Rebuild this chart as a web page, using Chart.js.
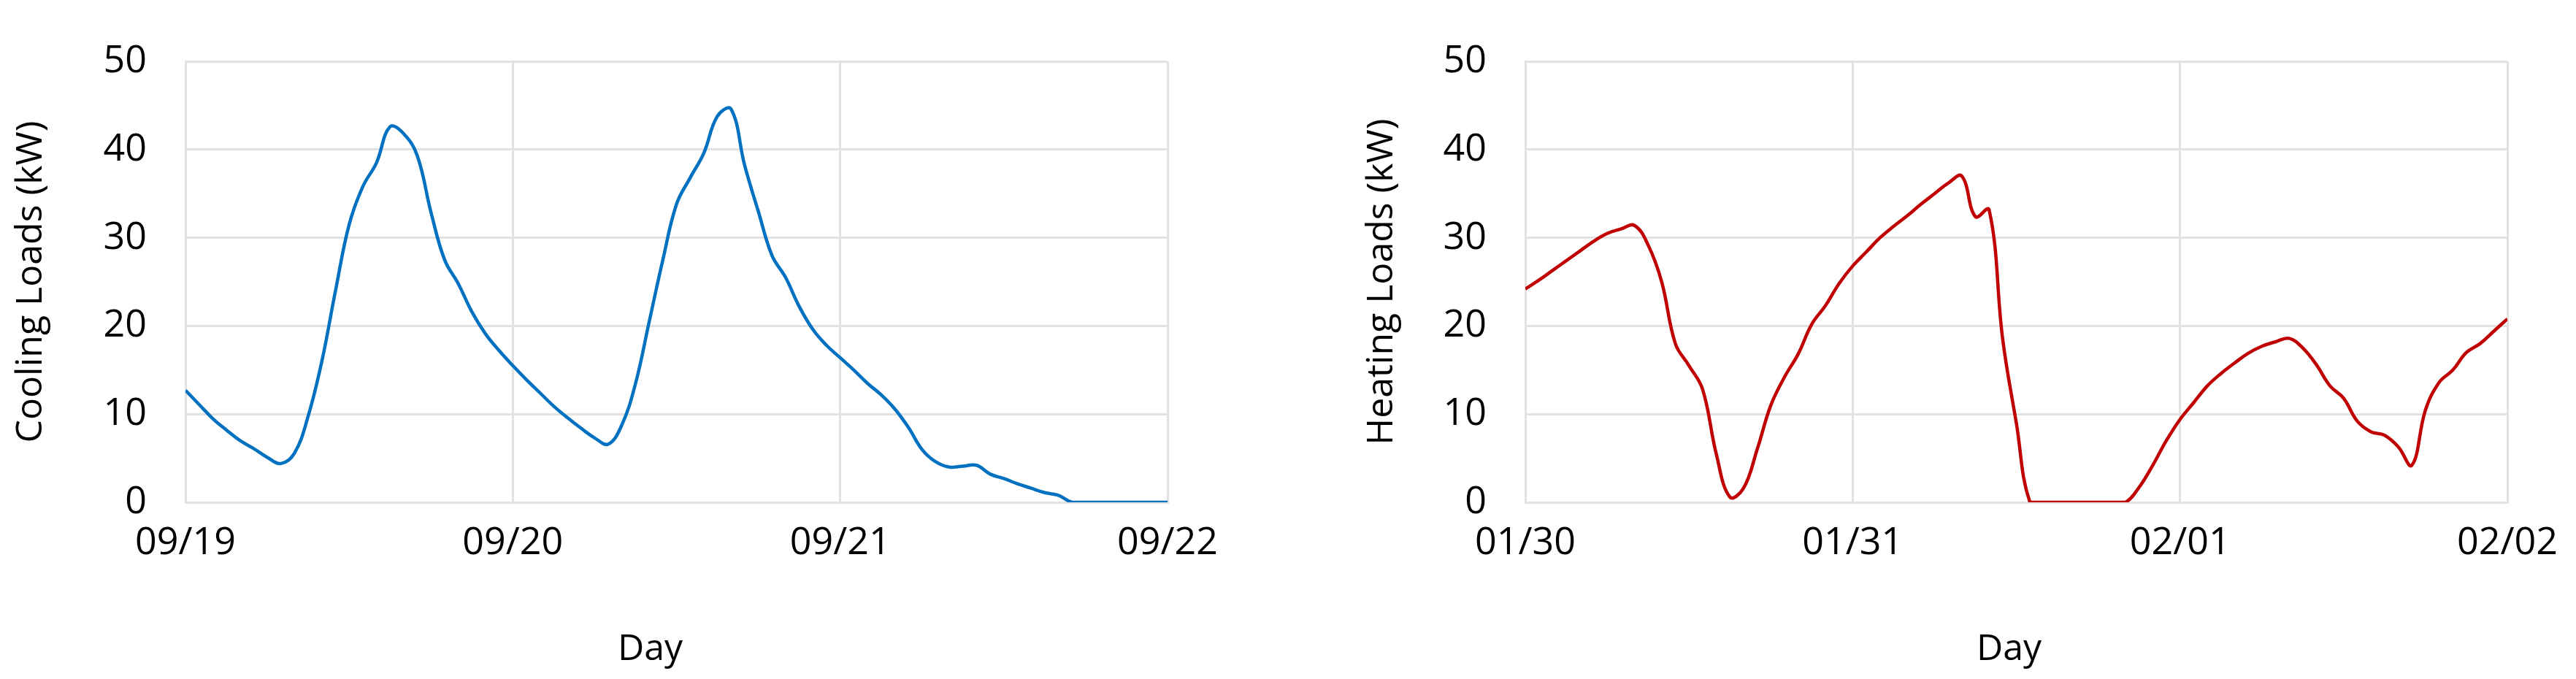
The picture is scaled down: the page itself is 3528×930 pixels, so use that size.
<!DOCTYPE html>
<html>
<head>
<meta charset="utf-8">
<script src="https://cdn.jsdelivr.net/npm/chart.js@4.4.1/dist/chart.umd.min.js"></script>
<style>
    html, body { margin: 0; padding: 0; background: #fff; }
    .wrap { position: absolute; top: 0; width: 1764px; height: 930px; }
</style>
</head>
<body>
<div class="wrap" style="left:0"><canvas id="coolingChart" width="1764" height="930"></canvas></div>
<div class="wrap" style="left:1764px"><canvas id="heatingChart" width="1764" height="930"></canvas></div>
<script>
const coolingDays = ['09/19', '09/20', '09/21', '09/22'];
const heatingDays = ['01/30', '01/31', '02/01', '02/02'];
// hourly samples over three days
const hours = Array.from({length: 73}, (_, i) => i);

const coolingLoads = [
    12.7, 11.1, 9.5, 8.2, 7.0, 6.1, 5.1, 4.4, 5.6, 9.8,
    16.0, 24.0, 31.5, 35.8, 38.5, 42.6, 41.8, 39.3, 32.9, 27.5,
    24.8, 21.6, 19.1, 17.2, 15.5, 13.9, 12.4, 10.9, 9.6, 8.4,
    7.3, 6.6, 8.8, 13.5, 20.5, 27.5, 33.8, 36.8, 39.6, 43.8,
    44.6, 38.2, 33.0, 28.0, 25.5, 22.2, 19.6, 17.8, 16.4, 15.0,
    13.5, 12.2, 10.6, 8.5, 6.0, 4.6, 4.0, 4.1, 4.2, 3.2,
    2.7, 2.1, 1.6, 1.1, 0.8, 0.0, 0, 0, 0, 0,
    0, 0, 0
];
const heatingLoads = [
    24.2, 25.2, 26.3, 27.4, 28.5, 29.6, 30.5, 31.0, 31.4, 29.2,
    25.0, 18.0, 15.5, 12.8, 5.5, 0.6, 1.6, 6.0, 11.0, 14.2,
    16.8, 20.2, 22.3, 24.8, 26.8, 28.4, 30.0, 31.3, 32.5, 33.8,
    35.0, 36.2, 37.0, 32.4, 33.2, 18.5, 9.0, 0, 0, 0,
    0, 0, 0, 0, 0, 1.7, 4.2, 7.0, 9.4, 11.3,
    13.2, 14.6, 15.8, 16.9, 17.7, 18.2, 18.6, 17.5, 15.6, 13.2,
    11.8, 9.2, 8.0, 7.6, 6.3, 4.2, 10.5, 13.6, 15.0, 17.0,
    18.0, 19.4, 20.8
];

const gridColor = '#e2e2e2';
const tickFont = { family: 'Open Sans', size: 52 };
const titleFont = { family: 'Open Sans', size: 50 };

// x title is drawn by hand: in the original it sits a bit left of the plot centre
const dayTitle = {
    id: 'dayTitle',
    afterDraw(chart, args, opts) {
        const { ctx, chartArea } = chart;
        ctx.save();
        ctx.font = '50px "Open Sans"';
        ctx.fillStyle = '#000';
        ctx.textAlign = 'center';
        ctx.textBaseline = 'middle';
        ctx.fillText('Day', (chartArea.left + chartArea.right) / 2 + opts.shift, 890);
        ctx.restore();
    }
};

function createChart(canvasId, dayLabels, loads, yLabel, color, padLeft, padRight, axisWidth, titleShift) {
    new Chart(document.getElementById(canvasId), {
        type: 'line',
        data: {
            datasets: [{
                data: hours.map((h, i) => ({ x: h, y: loads[i] })),
                borderColor: color,
                borderWidth: 4.5,
                pointRadius: 0,
                fill: false,
                tension: 0.4
            }]
        },
        plugins: [dayTitle],
        options: {
            responsive: false,
            animation: false,
            devicePixelRatio: 1,
            layout: { padding: { left: padLeft, right: padRight, top: 59, bottom: 0 } },
            plugins: {
                legend: { display: false },
                tooltip: { enabled: false },
                dayTitle: { shift: titleShift }
            },
            scales: {
                x: {
                    type: 'linear',
                    min: 0,
                    max: 72,
                    afterFit: s => { s.height = 242; },
                    ticks: {
                        stepSize: 24,
                        padding: 25,
                        maxRotation: 0,
                        autoSkip: false,
                        color: '#000',
                        font: tickFont,
                        callback: v => dayLabels[v / 24]
                    },
                    grid: { color: gridColor, lineWidth: 3, drawTicks: false },
                    border: { color: gridColor, width: 3 }
                },
                y: {
                    min: 0,
                    max: 50,
                    afterFit: s => { s.width = axisWidth; },
                    ticks: { stepSize: 10, padding: 53, color: '#000', font: tickFont },
                    grid: { color: gridColor, lineWidth: 3, drawTicks: false },
                    border: { color: gridColor, width: 3 },
                    title: { display: true, text: yLabel, color: '#000', font: titleFont, padding: { top: 13, bottom: 0 } }
                }
            }
        }
    });
}

createChart('coolingChart', coolingDays, coolingLoads, 'Cooling Loads (kW)', '#0070C0', 0, 165, 254, -36);
createChart('heatingChart', heatingDays, heatingLoads, 'Heating Loads (kW)', '#C00000', 86, 94, 239, -10);
</script>
</body>
</html>
